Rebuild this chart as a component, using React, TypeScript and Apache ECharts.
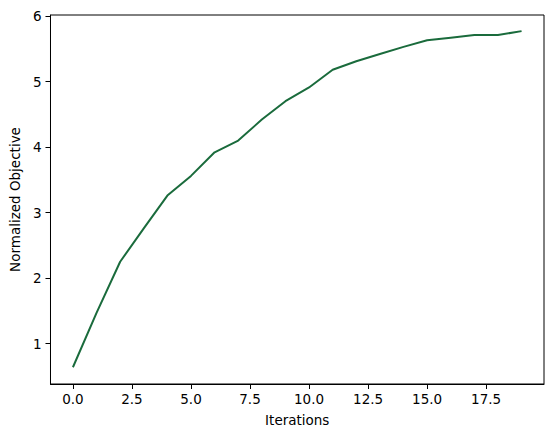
import React, { useEffect, useRef } from "react";
import * as echarts from "echarts";

const iterations = [0, 1, 2, 3, 4, 5, 6, 7, 8, 9, 10, 11, 12, 13, 14, 15, 16, 17, 18, 19];
const objective = [0.64, 1.47, 2.25, 2.76, 3.26, 3.56, 3.92, 4.1, 4.42, 4.7, 4.91, 5.18, 5.31, 5.42, 5.53, 5.63, 5.67, 5.71, 5.71, 5.77];
const xTicks = [0, 2.5, 5, 7.5, 10, 12.5, 15, 17.5];
const yTicks = [1, 2, 3, 4, 5, 6];

export default function App() {
  const ref = useRef<HTMLDivElement>(null);
  useEffect(() => {
    if (!ref.current) return;
    const chart = echarts.init(ref.current, undefined, { renderer: "svg" });
    const font = "DejaVu Sans";
    chart.setOption({
      animation: false,
      backgroundColor: "#ffffff",
      grid: {
        left: 48,
        top: 15,
        right: 10,
        bottom: 53,
        show: true,
        borderColor: "#000000",
        borderWidth: 1,
        containLabel: false,
      },
      xAxis: {
        type: "value",
        min: -0.95,
        max: 19.95,
        name: "Iterations",
        nameLocation: "middle",
        nameGap: 29,
        nameTextStyle: { color: "#000", fontSize: 13.5, fontFamily: font },
        axisLine: { show: true, onZero: false, lineStyle: { color: "#000", width: 1 } },
        axisTick: { show: true, inside: false, length: 5, lineStyle: { color: "#000" }, customValues: xTicks },
        axisLabel: {
          color: "#000",
          fontSize: 13.5,
          fontFamily: font,
          margin: 8,
          customValues: xTicks,
          formatter: (v: number) => v.toFixed(1),
        },
        splitLine: { show: false },
      },
      yAxis: {
        type: "value",
        min: 0.384,
        max: 6.016,
        name: "Normalized Objective",
        nameLocation: "middle",
        nameGap: 25,
        nameTextStyle: { color: "#000", fontSize: 13.5, fontFamily: font },
        axisLine: { show: true, onZero: false, lineStyle: { color: "#000", width: 1 } },
        axisTick: { show: true, inside: false, length: 5, lineStyle: { color: "#000" }, customValues: yTicks },
        axisLabel: {
          color: "#000",
          fontSize: 13.5,
          fontFamily: font,
          margin: 9,
          customValues: yTicks,
          formatter: (v: number) => String(Math.round(v)),
        },
        splitLine: { show: false },
      },
      series: [
        {
          type: "line",
          data: iterations.map((x, i) => [x, objective[i]]),
          showSymbol: false,
          symbol: "none",
          lineStyle: { color: "#1a6b3c", width: 2 },
          itemStyle: { color: "#1a6b3c" },
        },
      ],
    });
    return () => chart.dispose();
  }, []);
  return <div ref={ref} style={{ width: 554, height: 437, margin: -8 }} />;
}
